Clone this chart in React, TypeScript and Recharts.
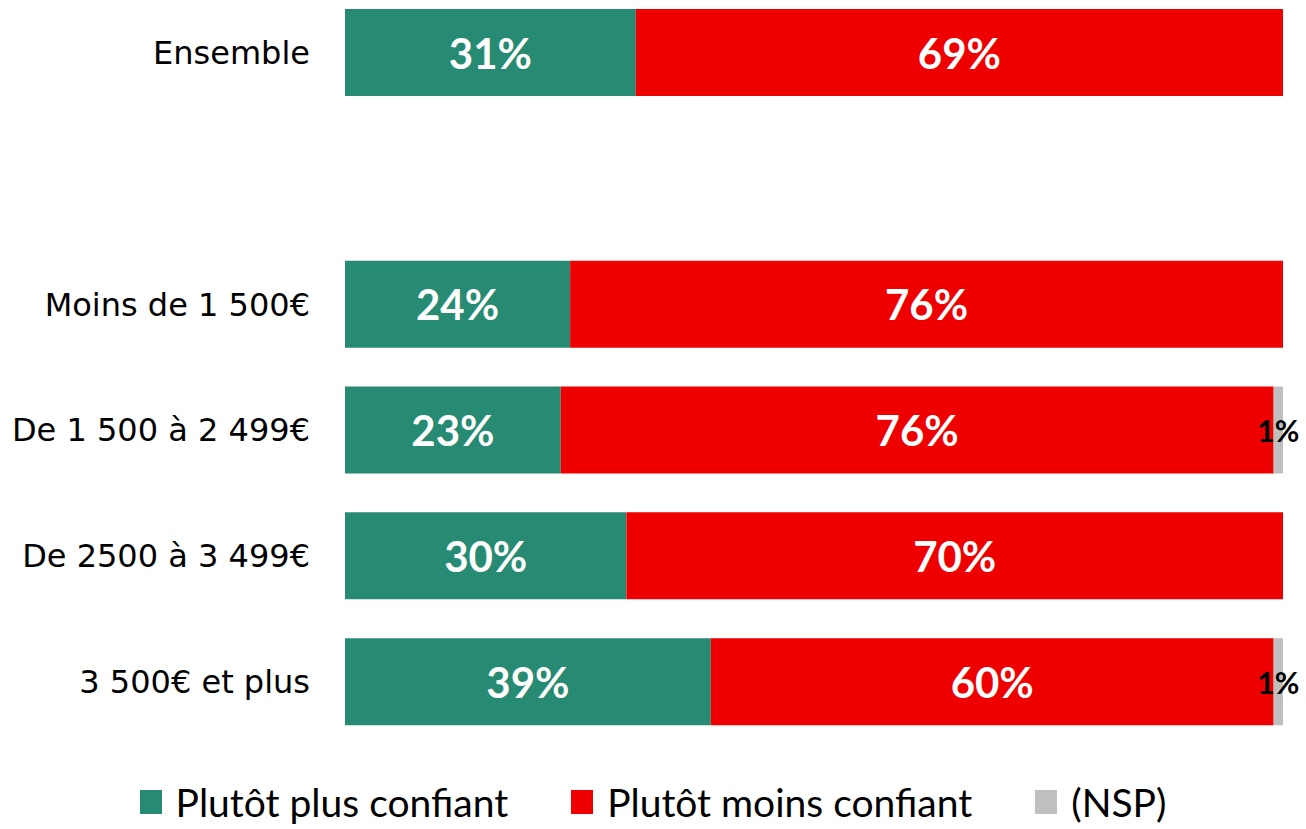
import { Bar, BarChart, LabelList, Legend, XAxis, YAxis } from "recharts";

const categories = ["Ensemble", "", "Moins de 1 500€", "De 1 500 à 2 499€", "De 2500 à 3 499€", "3 500€ et plus"];
const plusConfiant = [31, null, 24, 23, 30, 39];
const moinsConfiant = [69, null, 76, 76, 70, 60];
const nsp = [0, null, 0, 1, 0, 1];

const seriesNames = ["Plutôt plus confiant", "Plutôt moins confiant", "(NSP)"];
const colors = ["#278A73", "#EE0000", "#BFBFBF"];

const data = categories.map((name, i) => ({
  name,
  plus: plusConfiant[i],
  moins: moinsConfiant[i],
  nsp: nsp[i],
}));

function CategoryTick({ x, y, payload }: any) {
  return (
    <text x={x} y={y} textAnchor="end" dominantBaseline="central" fontFamily="DejaVu Sans" fontSize={32} fill="#000">
      {payload.value}
    </text>
  );
}

function makeLabel(fill: string, fontSize: number) {
  return (props: any) => {
    const { x, y, width, height, value } = props;
    if (value == null || value === 0) return null;
    return (
      <text
        x={Number(x) + Number(width) / 2}
        y={Number(y) + Number(height) / 2}
        textAnchor="middle"
        dominantBaseline="central"
        fontFamily="Lato"
        fontWeight="bold"
        fontSize={fontSize}
        fill={fill}
      >
        {`${value}%`}
      </text>
    );
  };
}

function LegendContent({ payload }: any) {
  const items = [...(payload || [])].sort(
    (a: any, b: any) => seriesNames.indexOf(a.value) - seriesNames.indexOf(b.value)
  );
  return (
    <div style={{ display: "flex", justifyContent: "center", alignItems: "center", height: 40, gap: 63 }}>
      {items.map((p: any) => (
        <div key={p.value} style={{ display: "flex", alignItems: "center" }}>
          <span style={{ width: 22, height: 24, background: p.color, marginRight: 14, display: "inline-block" }} />
          <span style={{ fontFamily: "Lato", fontSize: 39, color: "#000" }}>{p.value}</span>
        </div>
      ))}
    </div>
  );
}

export default function App() {
  return (
    <div style={{ position: "absolute", left: 0, top: -10, width: 1306, height: 839 }}>
      <BarChart width={1306} height={839} data={data} layout="vertical" margin={{ top: 0, right: 23, bottom: 44, left: 0 }} barSize={87}>
        <XAxis type="number" domain={[0, 100]} hide />
        <YAxis
          type="category"
          dataKey="name"
          width={345}
          axisLine={false}
          tickLine={false}
          tickSize={0}
          tickMargin={35}
          tick={<CategoryTick />}
        />
        <Legend
          verticalAlign="bottom"
          content={<LegendContent />}
          wrapperStyle={{ top: 792, left: 0, width: 1306 }}
        />
        <Bar dataKey="plus" name={seriesNames[0]} stackId="a" fill={colors[0]} isAnimationActive={false}>
          <LabelList dataKey="plus" content={makeLabel("#fff", 42)} />
        </Bar>
        <Bar dataKey="moins" name={seriesNames[1]} stackId="a" fill={colors[1]} isAnimationActive={false}>
          <LabelList dataKey="moins" content={makeLabel("#fff", 42)} />
        </Bar>
        <Bar dataKey="nsp" name={seriesNames[2]} stackId="a" fill={colors[2]} isAnimationActive={false}>
          <LabelList dataKey="nsp" content={makeLabel("#000", 30)} />
        </Bar>
      </BarChart>
    </div>
  );
}
